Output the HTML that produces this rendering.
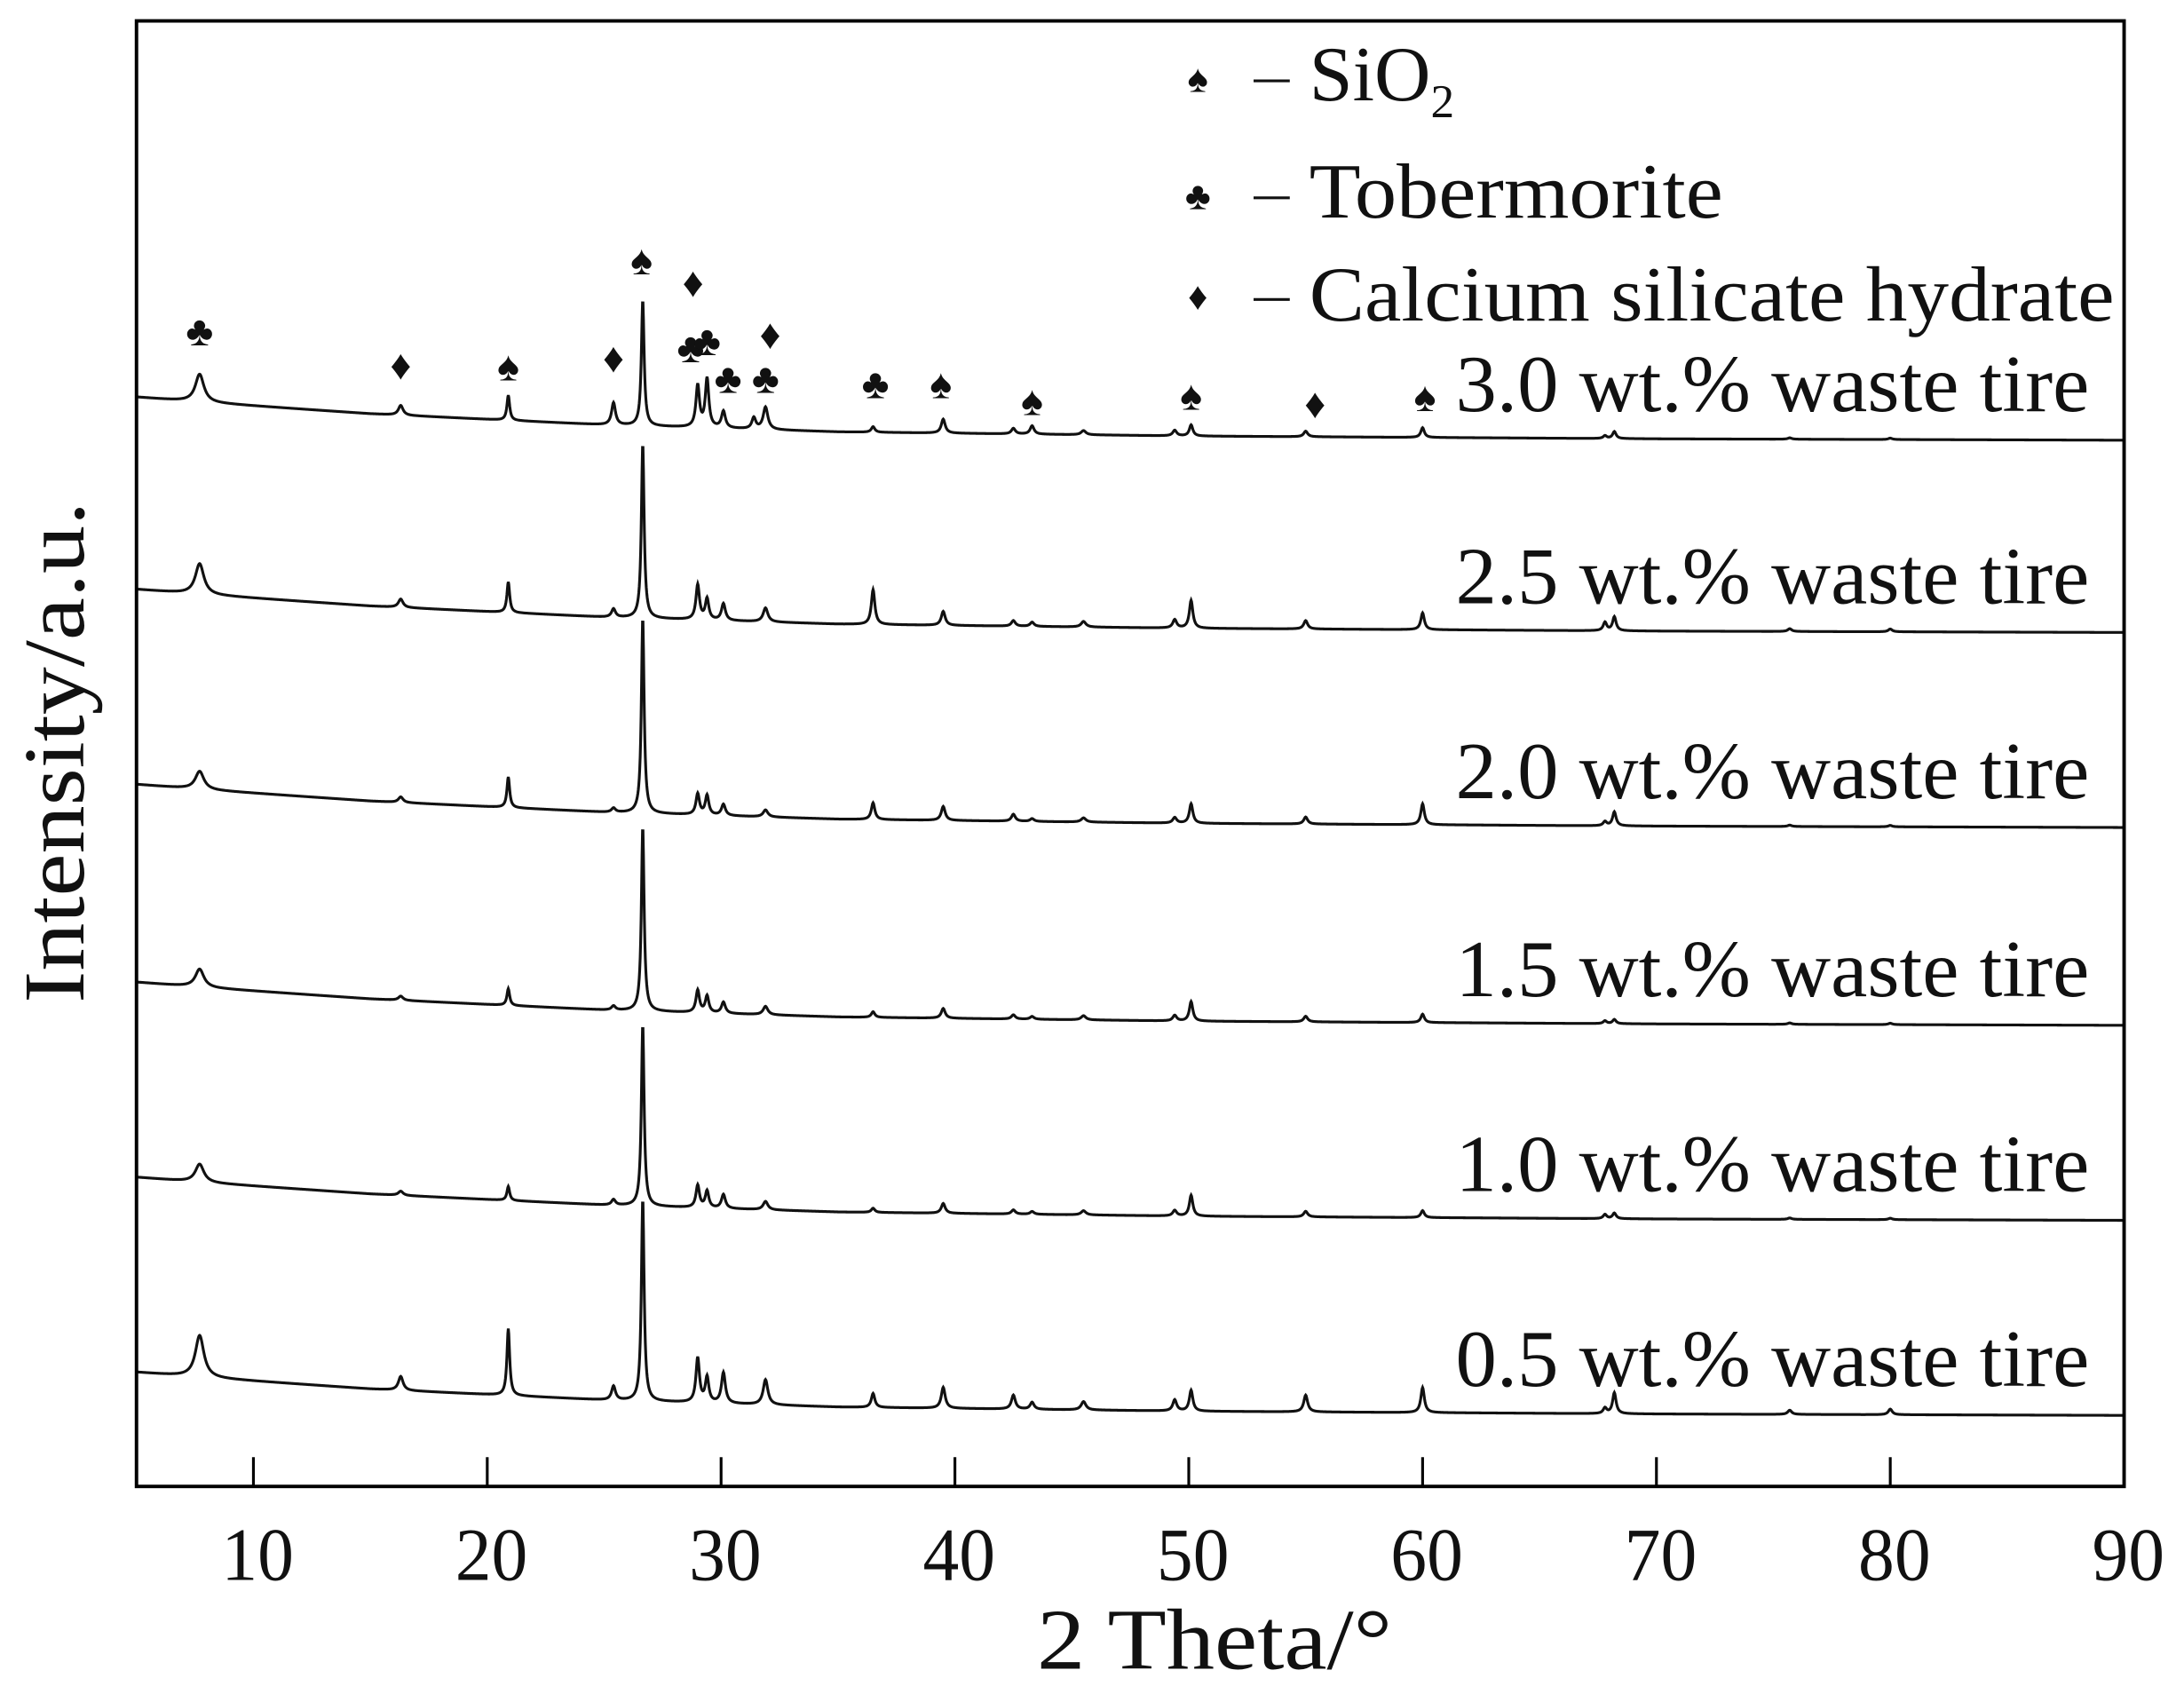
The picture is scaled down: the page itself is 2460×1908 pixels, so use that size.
<!DOCTYPE html>
<html><head><meta charset="utf-8"><style>
html,body{margin:0;padding:0;background:#fff;}
svg{display:block;}
text{font-family:"Liberation Serif","DejaVu Serif",serif;fill:#111;}
</style></head><body>
<svg id="chart" width="2460" height="1908" viewBox="0 0 1568 1216" preserveAspectRatio="none" xmlns="http://www.w3.org/2000/svg">
<rect width="1568" height="1216" fill="#fff"/>
<g id="series"></g>
<g id="markers"></g>
<g id="axes"></g>
<text x="0" y="0" font-size="62" text-anchor="middle" textLength="360" lengthAdjust="spacingAndGlyphs" transform="translate(60,540) rotate(-90)">Intensity/a.u.</text>
<text x="872" y="1198" font-size="62" text-anchor="middle" textLength="255" lengthAdjust="spacingAndGlyphs">2 Theta/°</text>
<g>
<text x="860" y="66" font-size="28" text-anchor="middle">♠</text>
<line x1="900" x2="926" y1="58" y2="58" stroke="#111" stroke-width="2"/>
<text x="940" y="72" font-size="56">SiO<tspan font-size="34" dy="12">2</tspan></text>
<text x="860" y="150" font-size="28" text-anchor="middle">♣</text>
<line x1="900" x2="926" y1="142" y2="142" stroke="#111" stroke-width="2"/>
<text x="940" y="156" font-size="56" textLength="297" lengthAdjust="spacingAndGlyphs">Tobermorite</text>
<text x="860" y="222" font-size="28" text-anchor="middle">♦</text>
<line x1="900" x2="926" y1="215" y2="215" stroke="#111" stroke-width="2"/>
<text x="940" y="230" font-size="56" textLength="578" lengthAdjust="spacingAndGlyphs">Calcium silicate hydrate</text>
</g>
</svg>
<script>
const seriesNames = ["0.5 wt.% waste tire","1.0 wt.% waste tire","1.5 wt.% waste tire","2.0 wt.% waste tire","2.5 wt.% waste tire","3.0 wt.% waste tire"];
const seriesOffsets = [985, 845, 705, 563, 423, 285];
const peakPos =   [7.7, 16.3, 20.9, 25.4, 26.65, 29.0, 29.4, 30.1, 31.4, 31.9, 36.5, 39.5, 42.5, 43.3, 45.5, 49.4, 50.1, 55.0, 60.0, 67.8, 68.2, 75.7, 80.0];
const peakWidth = [0.22, 0.12, 0.07, 0.1, 0.07, 0.09, 0.09, 0.1, 0.1, 0.12, 0.09, 0.1, 0.1, 0.1, 0.12, 0.1, 0.09, 0.1, 0.09, 0.09, 0.09, 0.1, 0.1];
const h05 = [30, 10, 48, 10, 145, 32, 18, 22, 0, 18, 10, 15, 10, 5, 6, 8, 15, 12, 18, 4, 15, 3, 4];
const h10 = [13, 3, 10, 4, 130, 16, 12, 10, 0, 6, 3, 7, 3, 2, 3, 4, 15, 4, 5, 3, 4, 1, 1];
const h15 = [13, 3, 12, 3, 132, 16, 12, 8, 0, 6, 4, 7, 3, 2, 3, 4, 14, 4, 6, 2, 3, 1, 1];
const h20 = [13, 4, 22, 3, 140, 15, 14, 8, 0, 5, 12, 10, 5, 2, 3, 4, 14, 5, 15, 3, 10, 1, 1];
const h25 = [22, 6, 22, 6, 125, 25, 15, 12, 0, 10, 25, 10, 4, 3, 4, 6, 20, 6, 12, 6, 10, 2, 2];
const h30 = [20, 7, 18, 16, 90, 30, 35, 12, 8, 16, 4, 10, 4, 6, 3, 4, 8, 4, 7, 2, 5, 1, 1];
const seriesHeights = [h05, h10, h15, h20, h25, h30];
const bgX = [5, 8, 15, 25, 35, 50, 70, 90];
const bgDrop = [0, 4, 12, 20, 25, 28, 30, 31];
const xTicks = [10, 20, 30, 40, 50, 60, 70, 80, 90];
const markerPos = [7.7, 16.3, 20.9, 25.4, 26.6, 28.8, 28.7, 29.4, 30.3, 32.1, 31.9, 36.6, 39.4, 43.3, 50.1, 55.4, 60.1];
const markerY =   [238, 262, 263, 257, 187, 203, 250, 245, 272, 240, 272, 276, 276, 288, 284, 290, 285];
const markerSym = ["♣","♦","♠","♦","♠","♦","♣","♣","♣","♦","♣","♣","♠","♠","♠","♦","♠"];

const NS = "http://www.w3.org/2000/svg";
const L = 98, R = 1525, T = 15, B = 1067, XMIN = 5, XMAX = 90;
function xs(v){ return L + (v - XMIN) / (XMAX - XMIN) * (R - L); }
function bg(v){
  for (let i = 0; i < bgX.length - 1; i++) {
    if (v <= bgX[i+1]) { const t = (v - bgX[i]) / (bgX[i+1] - bgX[i]); return bgDrop[i] + t * (bgDrop[i+1] - bgDrop[i]); }
  }
  return bgDrop[bgDrop.length - 1];
}
function ys(off, v, h){
  let s = 0;
  for (let k = 0; k < peakPos.length; k++) {
    const g = peakWidth[k], d = v - peakPos[k];
    s += h[k] * g * g / (d * d + g * g);
  }
  return off + bg(v) - s;
}
const sg = document.getElementById('series');
seriesNames.forEach((name, i) => {
  let d = "";
  for (let v = XMIN; v <= XMAX + 1e-9; v += 0.02) {
    d += (d ? "L" : "M") + xs(v).toFixed(2) + "," + ys(seriesOffsets[i], v, seriesHeights[i]).toFixed(2);
  }
  const p = document.createElementNS(NS, 'path');
  p.setAttribute('d', d);
  p.setAttribute('fill', 'none');
  p.setAttribute('stroke', '#111');
  p.setAttribute('stroke-width', '2');
  
  
  sg.appendChild(p);
  const t = document.createElementNS(NS, 'text');
  t.setAttribute('x', 1500);
  t.setAttribute('y', seriesOffsets[i] + 10);
  t.setAttribute('font-size', '58');
  t.setAttribute('text-anchor', 'end');
  t.setAttribute('textLength', '455');
  t.setAttribute('lengthAdjust', 'spacingAndGlyphs');
  t.textContent = name;
  
  
  sg.appendChild(t);
});
const mg = document.getElementById('markers');
markerPos.forEach((v, i) => {
  const t = document.createElementNS(NS, 'text');
  t.setAttribute('x', xs(v));
  t.setAttribute('y', markerY[i] + 10);
  t.setAttribute('font-size', '30');
  t.setAttribute('text-anchor', 'middle');
  t.textContent = markerSym[i];
  
  
  mg.appendChild(t);
});
const ag = document.getElementById('axes');
const frame = document.createElementNS(NS, 'rect');
frame.setAttribute('x', L); frame.setAttribute('y', T);
frame.setAttribute('width', R - L); frame.setAttribute('height', B - T);
frame.setAttribute('fill', 'none'); frame.setAttribute('stroke', '#000'); frame.setAttribute('stroke-width', '2.5');


ag.appendChild(frame);
xTicks.forEach(v => {
  const ln = document.createElementNS(NS, 'line');
  ln.setAttribute('x1', xs(v)); ln.setAttribute('x2', xs(v));
  ln.setAttribute('y1', B); ln.setAttribute('y2', B - 21);
  ln.setAttribute('stroke', '#000'); ln.setAttribute('stroke-width', '2');
  
  
  ag.appendChild(ln);
  const t = document.createElementNS(NS, 'text');
  t.setAttribute('x', xs(v) + 3); t.setAttribute('y', 1134);
  t.setAttribute('font-size', '54'); t.setAttribute('text-anchor', 'middle');
  t.setAttribute('textLength', '52'); t.setAttribute('lengthAdjust', 'spacingAndGlyphs');
  t.textContent = v;
  
  
  ag.appendChild(t);
});
</script>
</body></html>
